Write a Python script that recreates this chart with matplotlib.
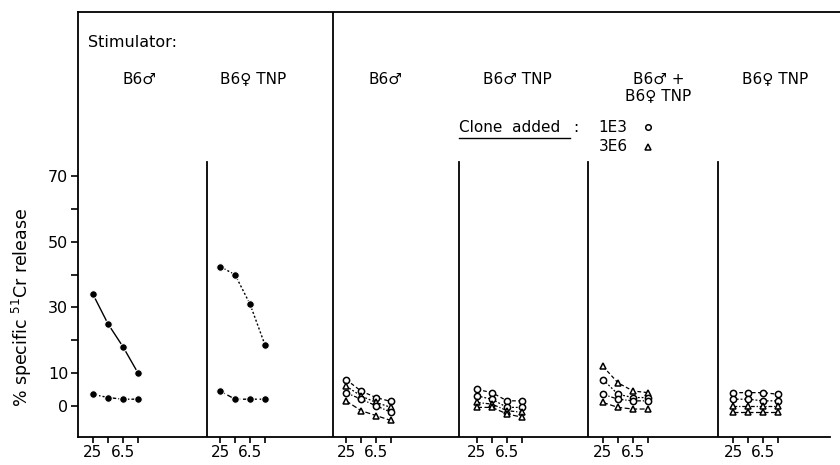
import matplotlib.pyplot as plt
import numpy as np

# doses per panel (only 25 and 6.5 get a label)
dose_labels = ['25', '', '6.5', '']

# panel titles
titles = ['B6♂', 'B6♀ TNP', 'B6♂', 'B6♂ TNP', 'B6♂ +\nB6♀ TNP', 'B6♀ TNP']

# panels without clone: filled circles
p1_upper = [34, 25, 18, 10]
p1_lower = [3.5, 2.5, 2, 2]
p2_upper = [42.5, 40, 31, 18.5]
p2_lower = [4.5, 2, 2, 2]

# panels with clone added: circles = 1E3, triangles = 3E6
p3 = {'o1': [8, 4.5, 2.5, 1.3], 't1': [6, 3, 1, -0.5],
      'o2': [4, 2, 0, -2], 't2': [1.5, -1.5, -3, -4.5]}
p4 = {'o1': [5, 4, 1.5, 1.5], 'o2': [3, 2, -0.5, -0.5],
      't1': [1, 0.5, -1.5, -2], 't2': [-0.5, -0.5, -2.5, -3.5]}
p5 = {'t1': [12, 7, 4.5, 4], 'o1': [8, 3.5, 2.5, 2.5],
      'o2': [3.5, 2, 1.5, 1.5], 't2': [1, -0.5, -1, -1]}
p6 = {'o1': [4, 4, 4, 3.5], 'o2': [2, 2, 1.5, 1.5],
      't1': [0, 0, 0, 0], 't2': [-2, -2, -2, -2]}

# layout: panel edges and first dose position (x units)
edges = [0, 8.6, 17, 25.4, 34, 42.67, 50.8]
first = [1.0, 9.47, 17.87, 26.6, 35.0, 43.67]

fig = plt.figure(figsize=(8.4, 4.65), dpi=100)
ax = fig.add_axes([78 / 840, 28 / 465, 762 / 840, 425 / 465])
ax.set_xlim(0, 50.8)
ax.set_ylim(-9.54, 120.2)

ax.spines['right'].set_visible(False)
ax.spines['bottom'].set_bounds(0, 50.1)
for s in ['left', 'bottom', 'top']:
    ax.spines[s].set_linewidth(1.3)

# panel dividers
ax.plot([17, 17], [-9.54, 120.2], color='black', lw=1.3)
for e in [8.6, 25.4, 34, 42.67]:
    ax.plot([e, e], [-9.54, 74.5], color='black', lw=1.3)

def xs(i):
    return first[i] + np.arange(4)

kw_f = dict(color='black', marker='o', markersize=5.5, markeredgecolor='white',
            markeredgewidth=0.8, lw=1)
ax.plot(xs(0), p1_upper, linestyle='-', **kw_f)
ax.plot(xs(0), p1_lower, linestyle=(0, (3, 1.5, 1, 1.5)), **kw_f)
ax.plot(xs(1), p2_upper, linestyle=(0, (1.5, 1.5)), **kw_f)
ax.plot(xs(1), p2_lower, linestyle=(0, (4, 2)), **kw_f)

styles = [(0, (3, 2)), (0, (1.5, 1.5)), (0, (3, 1.5, 1, 1.5)), (0, (4, 2))]
for i, grp in zip([2, 3, 4, 5], [p3, p4, p5, p6]):
    for k, (key, vals) in enumerate(grp.items()):
        m = 'o' if key.startswith('o') else '^'
        ax.plot(xs(i), vals, color='black', lw=0.9, linestyle=styles[k],
                marker=m, markersize=4.5, markerfacecolor='white',
                markeredgecolor='black', markeredgewidth=1.1)

# axes ticks
ax.set_yticks([0, 10, 30, 50, 70])
ax.set_yticks([20, 40, 60], minor=True)
ax.tick_params(axis='y', which='both', direction='out', length=5, width=1.2,
               labelsize=11.5, pad=2)
ticks = np.concatenate([xs(i) for i in range(6)])
ax.set_xticks(ticks)
ax.set_xticklabels(dose_labels * 6)
ax.tick_params(axis='x', direction='out', length=4, width=1.2, labelsize=11, pad=2)

ax.set_ylabel('% specific $^{51}$Cr release', fontsize=12.5)
ax.yaxis.set_label_coords(-0.058, 0.305)

# titles
ax.text(0.67, 111, 'Stimulator:', fontsize=11.5, ha='left', va='center')
title_x = [4.1, 11.7, 20.5, 29.3, 38.7, 46.5]
for tx, t in zip(title_x, titles):
    ax.text(tx, 102, t, fontsize=11, ha='center', va='top', linespacing=1.1)

# clone legend
ax.text(25.4, 85, 'Clone  added', fontsize=11, ha='left', va='center')
ax.plot([25.4, 32.8], [81.6, 81.6], color='black', lw=1)
ax.text(33.0, 85, ':', fontsize=11, ha='left', va='center')
ax.text(34.7, 85, '1E3', fontsize=11, ha='left', va='center')
ax.text(34.7, 79, '3E6', fontsize=11, ha='left', va='center')
ax.plot([38.0], [85], marker='o', markersize=4, markerfacecolor='white',
        markeredgecolor='black', markeredgewidth=1.1)
ax.plot([38.0], [79], marker='^', markersize=4, markerfacecolor='white',
        markeredgecolor='black', markeredgewidth=1.1)

fig.savefig('out.png', dpi=100)
